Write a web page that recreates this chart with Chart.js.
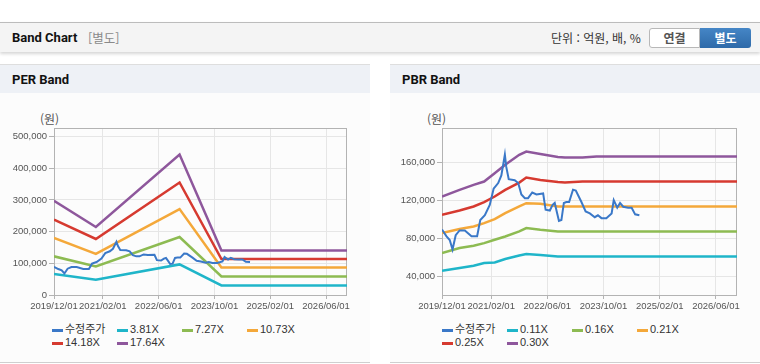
<!DOCTYPE html>
<html lang="ko">
<head>
<meta charset="utf-8">
<title>Band Chart</title>
<script src="https://cdn.jsdelivr.net/npm/chart.js@4/dist/chart.umd.min.js"></script>
<style>
  body { margin: 0; width: 760px; height: 364px; overflow: hidden; background: #fff; position: relative;
         font-family: 'Liberation Sans', Arial, 'Noto Sans CJK KR', sans-serif; color: #333; }
  .topbar { position: absolute; left: 0; top: 22px; width: 760px; height: 29px; background: #f4f4f4;
            border-top: 1px solid #bcbcbc; box-shadow: 0 2px 3px rgba(0,0,0,.16); }
  .topbar .title { position: absolute; left: 12px; top: 0; font: bold 13px Roboto, sans-serif; line-height: 30px; color: #111; }
  .topbar .sub { position: absolute; left: 88px; top: 0; line-height: 29px; font-size: 12.5px; color: #8a8a8a;
                 font-family: 'Noto Sans CJK KR', sans-serif; }
  .topbar .unit { position: absolute; left: 551px; top: 0; line-height: 29px; font-size: 12px; color: #333;
                  font-family: 'Noto Sans CJK KR', sans-serif; }
  .btn { position: absolute; top: 5px; width: 51px; height: 20px; text-align: center; box-sizing: border-box;
         font: bold 12px 'Noto Sans CJK KR', sans-serif; line-height: 20px; }
  .btn.off { left: 649px; background: #fff; border: 1px solid #b8b8b8; border-radius: 3px 0 0 3px; color: #555; line-height: 18px; }
  .btn.on { left: 700px; background: linear-gradient(#4586c6, #2e6aa9); border-radius: 0 3px 3px 0; color: #fff; }
  .panel { position: absolute; top: 64px; width: 370px; height: 297px; background: #fcfcfc;
           border-top: 1px solid #dedede; border-bottom: 1px solid #cfcfcf; }
  .panel .head { position: absolute; left: 0; top: 0; width: 370px; height: 28px; background: #eef1f6; }
  .panel .head span { position: absolute; left: 12px; top: 0; font: bold 13px Roboto, sans-serif; line-height: 30px; color: #111; }
  .panel canvas { position: absolute; left: 0; top: 28px; }
  .panel .won { position: absolute; top: 45px; font: 12px 'Noto Sans CJK KR', sans-serif; color: #555; }
  .legend { position: absolute; top: 258px; width: 270px; font-size: 11px; color: #333; }
  .legend div { display: inline-block; width: 65px; height: 13px; line-height: 13px; white-space: nowrap; }
  .legend i { display: inline-block; width: 11px; height: 3px; vertical-align: middle; margin-right: 2px; }
</style>
</head>
<body>

<div class="topbar">
  <span class="title">Band Chart</span>
  <span class="sub">[별도]</span>
  <span class="unit">단위 : 억원, 배, %</span>
  <span class="btn off">연결</span>
  <span class="btn on">별도</span>
</div>

<div class="panel" style="left:0">
  <div class="head"><span>PER Band</span></div>
  <span class="won" style="left:40px">(원)</span>
  <canvas id="perChart" width="370" height="224"></canvas>
  <div class="legend" id="perLegend" style="left:52px"></div>
</div>

<div class="panel" style="left:390px">
  <div class="head"><span>PBR Band</span></div>
  <span class="won" style="left:37px">(원)</span>
  <canvas id="pbrChart" width="370" height="224"></canvas>
  <div class="legend" id="pbrLegend" style="left:52px"></div>
</div>

<script>
// eixo X (datas)
const xTickLabels = ['2019/12/01', '2021/02/01', '2022/06/01', '2023/10/01', '2025/02/01', '2026/06/01'];
const xStart = '2019/12/01';
const xEnd = '2026/12/01';

// 수정주가 (igual nos dois graficos)
const priceDates = ['2019/12/01','2020/01/08','2020/02/07','2020/03/01','2020/03/28','2020/05/01','2020/06/16','2020/08/13','2020/10/01','2020/10/28',
  '2020/12/07','2021/01/19','2021/02/22','2021/04/01','2021/04/28','2021/05/28','2021/06/10','2021/07/01','2021/08/22','2021/09/22',
  '2021/10/19','2021/11/19','2021/12/16','2022/01/22','2022/02/28','2022/04/25','2022/05/16','2022/06/22','2022/07/16','2022/08/04',
  '2022/08/25','2022/09/10','2022/10/01','2022/10/22','2022/11/13','2022/12/07','2023/01/10','2023/02/04','2023/03/22','2023/04/28',
  '2023/06/04','2023/07/16','2023/08/13','2023/09/13','2023/10/25','2023/12/10','2023/12/28','2024/01/28','2024/02/22','2024/03/19',
  '2024/05/01','2024/06/01','2024/07/01','2024/08/07'];
const priceValues = [89000, 82000, 78000, 68000, 83000, 88000, 88000, 82000, 82000, 99000,
  104000, 115000, 132000, 138000, 146000, 168000, 155000, 142000, 141000, 138000,
  126000, 122000, 122000, 128000, 126000, 127000, 110000, 109000, 115000, 117000,
  106000, 98000, 99000, 117000, 118000, 118000, 131000, 130000, 118000, 108000,
  106000, 102000, 104000, 101000, 101000, 106000, 120000, 112000, 117000, 113000,
  112000, 112000, 105000, 104000];

// PER Band
const perLabels = ['3.81X', '7.27X', '10.73X', '14.18X', '17.64X'];
const perDates = ['2019/12/01', '2020/12/01', '2022/12/01', '2023/12/01', '2026/12/01'];
const per381 = [66000, 48000, 96500, 30300, 30300];
const per727 = [122000, 90000, 183000, 58700, 58700];
const per1073 = [180000, 130000, 271000, 87000, 87000];
const per1418 = [237500, 176700, 355000, 113600, 113600];
const per1764 = [297500, 214500, 443000, 140700, 140700];
const perYTicks = [0, 100000, 200000, 300000, 400000, 500000];
const perYMin = 0;
const perYMax = 527000;

// PBR Band
const pbrLabels = ['0.11X', '0.16X', '0.21X', '0.25X', '0.30X'];
const pbrDates = ['2019/12/01', '2020/05/01', '2020/09/01', '2020/12/01', '2021/03/01', '2021/06/01', '2021/10/01',
  '2021/12/01', '2022/04/01', '2022/09/01', '2022/11/01', '2023/04/01', '2023/08/01', '2026/12/01'];
const pbr011 = [45600, 48400, 50800, 53700, 54300, 57900, 61700, 63200, 62100, 60600, 60600, 60600, 60600, 60600];
const pbr016 = [64200, 69500, 71900, 74700, 78200, 81700, 87000, 90500, 88700, 87000, 87000, 87000, 87000, 87000];
const pbr021 = [85300, 89500, 92200, 95800, 100000, 106300, 113300, 116800, 116100, 113300, 113300, 113300, 113300, 113300];
const pbr025 = [104500, 109000, 113300, 117900, 123800, 130800, 138500, 143800, 141200, 139000, 138500, 139600, 139600, 139600];
const pbr030 = [123800, 130800, 136100, 139600, 148400, 157200, 167700, 171200, 168500, 165500, 164800, 164800, 165900, 165900];
const pbrYTicks = [40000, 80000, 120000, 160000];
const pbrYMin = 20000;
const pbrYMax = 196000;

const colors = ['#3a78c8', '#1fb5c9', '#8dbb52', '#f4a83a', '#d63a30', '#8e579c'];

// data 'AAAA/MM/DD' -> meses desde 2019/12
function toMonth(d) {
  const [y, m, day] = d.split('/').map(Number);
  return (y - 2019) * 12 + (m - 12) + (day - 1) / 30;
}

function toPoints(dates, values) {
  return values.map((v, i) => ({ x: toMonth(dates[i]), y: v }));
}

// moldura cinza em volta da area do grafico
const framePlugin = {
  id: 'frame',
  beforeDatasetsDraw(chart) {
    const a = chart.chartArea;
    const c = chart.ctx;
    c.save();
    c.strokeStyle = '#b3b3b3';
    c.lineWidth = 1;
    c.strokeRect(Math.round(a.left) + 0.5, Math.round(a.top) + 0.5, Math.round(a.right - a.left) - 1, Math.round(a.bottom - a.top));
    c.restore();
  }
};

function makeChart(id, legendId, bandLabels, bandDates, bands, yTicks, yMin, yMax, yWidth) {
  const datasets = [{ label: '수정주가', data: toPoints(priceDates, priceValues), borderColor: colors[0], borderWidth: 2 }];
  bands.forEach((b, i) => {
    datasets.push({ label: bandLabels[i], data: toPoints(bandDates, b), borderColor: colors[i + 1], borderWidth: 2.5 });
  });

  const tickFont = { family: "'Liberation Sans', Arial, sans-serif", size: 9.5 };

  new Chart(document.getElementById(id).getContext('2d'), {
    type: 'line',
    data: { datasets: datasets },
    options: {
      responsive: false,
      animation: false,
      events: [],
      layout: { padding: { top: 35, left: 0, right: 23, bottom: 0 } },
      elements: { point: { radius: 0 }, line: { tension: 0, borderCapStyle: 'butt' } },
      plugins: { legend: { display: false }, tooltip: { enabled: false } },
      scales: {
        x: {
          type: 'linear',
          min: toMonth(xStart),
          max: toMonth(xEnd),
          afterBuildTicks: s => { s.ticks = xTickLabels.map(t => ({ value: toMonth(t) })); },
          afterFit: s => { s.height = 22; },
          ticks: { autoSkip: false, maxRotation: 0, padding: 2, color: '#555', font: tickFont,
                   callback: (v, i) => xTickLabels[i] },
          grid: { color: '#e6e6e6', tickColor: '#b3b3b3', tickLength: 4 },
          border: { display: false }
        },
        y: {
          min: yMin,
          max: yMax,
          afterBuildTicks: s => { s.ticks = yTicks.map(v => ({ value: v })); },
          afterFit: s => { s.width = yWidth; },
          ticks: { padding: 2, color: '#555', font: tickFont, callback: v => v.toLocaleString('en-US') },
          grid: { color: '#e6e6e6', tickColor: '#b3b3b3', tickLength: 5 },
          border: { display: false }
        }
      }
    },
    plugins: [framePlugin]
  });

  // legenda em HTML
  document.getElementById(legendId).innerHTML = datasets.map(ds =>
    `<div><i style="background:${ds.borderColor}"></i>${ds.label}</div>`).join('');
}

makeChart('perChart', 'perLegend', perLabels, perDates, [per381, per727, per1073, per1418, per1764], perYTicks, perYMin, perYMax, 54);
makeChart('pbrChart', 'pbrLegend', pbrLabels, pbrDates, [pbr011, pbr016, pbr021, pbr025, pbr030], pbrYTicks, pbrYMin, pbrYMax, 52);
</script>
</body>
</html>
